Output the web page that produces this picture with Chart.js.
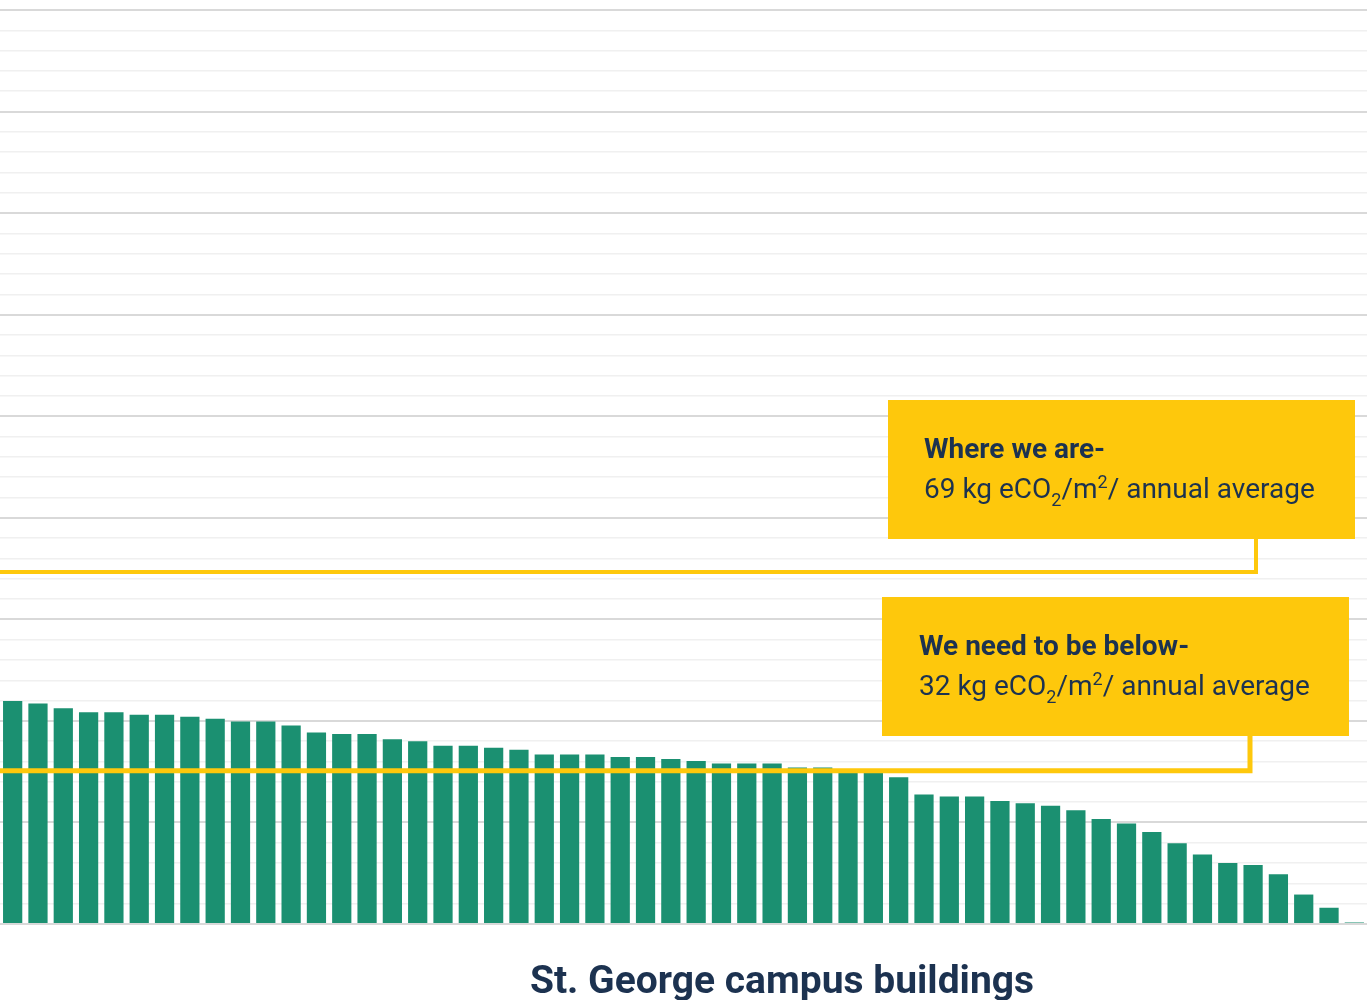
<!DOCTYPE html>
<html>
<head>
<meta charset="utf-8">
<script src="https://cdn.jsdelivr.net/npm/chart.js@4"></script>
<style>
  html, body { margin: 0; padding: 0; background: #ffffff; }
  #wrap { width: 1367px; height: 1000px; position: relative; }
</style>
</head>
<body>
<div id="wrap"><canvas id="myChart"></canvas></div>
<script>
// data (kg eCO2/m2 per building)
var emissions = [
  43.9, 43.4, 42.5, 41.7, 41.7, 41.2, 41.2, 40.8, 40.4, 39.9,
  39.9, 39.1, 37.7, 37.4, 37.4, 36.4, 36.0, 35.1, 35.1, 34.7,
  34.3, 33.4, 33.4, 33.4, 32.9, 32.9, 32.5, 32.1, 31.6, 31.6,
  31.6, 30.8, 30.8, 30.1, 30.1, 28.9, 25.5, 25.1, 25.1, 24.2,
  23.8, 23.3, 22.4, 20.7, 19.8, 18.1, 15.9, 13.7, 12.0, 11.6,
  9.8, 5.8, 3.2, 0.3,
];
var buildings = emissions.map(function (v, i) { return "Building " + (i + 1); });

// reference lines: where they sit on the scale, and what the boxes say
var lineValues = [69.3, 30.2];
var lineLabels = ["69", "32"];
var calloutTitles = ["Where we are-", "We need to be below-"];
var chartTitle = "St. George campus buildings";

var yellow = "#fec80c";
var navy = "#1c3250";
var green = "#1b9071";

// box layout (pixels)
var boxes = [
  { x: 888, y: 400, w: 467, h: 139, textX: 924, connX: 1256, lineW: 4 },
  { x: 882, y: 597, w: 467, h: 139, textX: 919, connX: 1250, lineW: 5 },
];

function drawUnitLine(ctx, x, y, value) {
  var big = "400 28px Roboto";
  var small = "400 18px Roboto";
  var parts = [
    [value + " kg eCO", big, 0],
    ["2", small, 8],
    ["/m", big, 0],
    ["2", small, -10],
    ["/ annual average", big, 0],
  ];
  parts.forEach(function (p) {
    ctx.font = p[1];
    ctx.fillText(p[0], x, y + p[2]);
    x += ctx.measureText(p[0]).width;
  });
}

var calloutPlugin = {
  id: "callouts",
  afterDatasetsDraw: function (chart) {
    var ctx = chart.ctx;
    var area = chart.chartArea;
    var yScale = chart.scales.y;
    ctx.save();
    boxes.forEach(function (b, i) {
      var y = yScale.getPixelForValue(lineValues[i]);
      ctx.strokeStyle = yellow;
      ctx.lineWidth = b.lineW;
      ctx.beginPath();
      ctx.moveTo(area.left - 5, y);
      ctx.lineTo(b.connX, y);
      ctx.lineTo(b.connX, b.y + b.h);
      ctx.stroke();

      ctx.fillStyle = yellow;
      ctx.fillRect(b.x, b.y, b.w, b.h);

      ctx.fillStyle = navy;
      ctx.textBaseline = "alphabetic";
      ctx.textAlign = "left";
      ctx.font = "700 28px Roboto";
      ctx.fillText(calloutTitles[i], b.textX, b.y + 58);
      drawUnitLine(ctx, b.textX, b.y + 98, lineLabels[i]);
    });

    ctx.fillStyle = navy;
    ctx.font = "700 39px Roboto";
    ctx.textAlign = "center";
    ctx.fillText(chartTitle, 782, 993);
    ctx.restore();
  },
};

// config
var config = {
  type: "bar",
  data: {
    labels: buildings,
    datasets: [
      {
        label: "kg eCO2/m2",
        data: emissions,
        backgroundColor: green,
        borderWidth: 0,
        barPercentage: 0.76,
        categoryPercentage: 1,
      },
    ],
  },
  options: {
    responsive: true,
    maintainAspectRatio: false,
    animation: false,
    layout: {
      padding: { top: 10, bottom: 76, left: 0, right: 0 },
    },
    plugins: {
      legend: { display: false },
      tooltip: { enabled: false },
    },
    scales: {
      x: {
        display: false,
      },
      y: {
        min: 0,
        max: 180,
        border: { display: false },
        ticks: { display: false, stepSize: 4 },
        grid: {
          drawTicks: false,
          color: function (c) {
            return c.tick.value % 20 === 0 ? "#d9d9d9" : "#f0f0f0";
          },
          lineWidth: function (c) {
            return c.tick.value % 20 === 0 ? 2 : 1.5;
          },
        },
      },
    },
  },
  plugins: [calloutPlugin],
};

// render init block
var myChart = new Chart(document.getElementById("myChart"), config);
</script>
</body>
</html>
